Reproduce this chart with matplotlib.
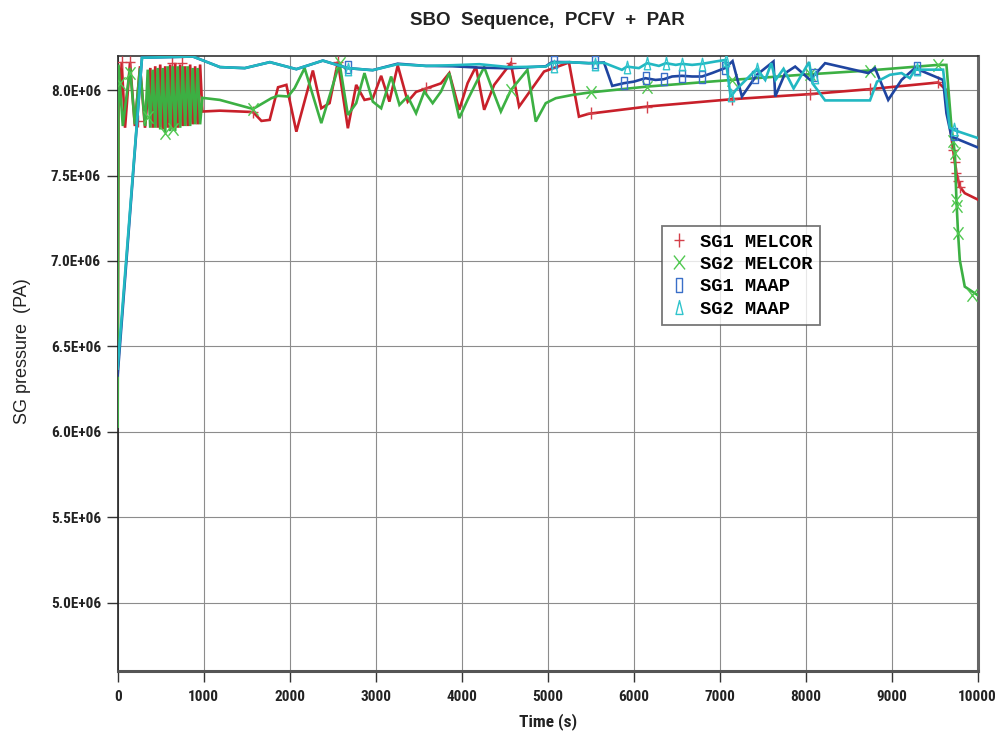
import matplotlib
matplotlib.use("Agg")
import matplotlib.pyplot as plt
from matplotlib.path import Path
from matplotlib.lines import Line2D
from matplotlib.ticker import FuncFormatter, MultipleLocator

# ── Data (time in s, pressure in units of 1e6 Pa) ─────────────────────────────

sg1_mel_t = [0, 12, 30, 47, 86, 144, 200, 260, 318, 380, 408, 437, 466, 495, 524, 553,
             582, 611, 640, 669, 698, 727, 756, 785, 814, 843, 872, 901, 930, 959, 985,
             1188, 1574, 1672, 1768, 1865, 1962, 2078, 2270, 2368, 2464, 2561, 2677,
             2774, 2870, 2967, 3064, 3160, 3257, 3373, 3470, 3566, 3760, 3856, 3972,
             4069, 4166, 4262, 4378, 4572, 4668, 4958, 5248, 5364, 5480, 6157, 7143,
             8052, 8748, 9540, 9637, 9676, 9715, 9753, 9792, 9850, 10000]
sg1_mel_p = [6.25, 8.14, 7.95, 8.165, 7.78, 8.165, 7.79, 8.14, 7.78, 8.13, 7.78, 8.14,
             7.78, 8.15, 7.77, 8.14, 7.78, 8.15, 7.77, 8.16, 7.78, 8.15, 7.79, 8.14,
             7.79, 8.15, 7.80, 8.14, 7.80, 8.15, 7.875, 7.88, 7.872, 7.82, 7.826, 8.017,
             8.031, 7.757, 8.115, 7.894, 7.924, 8.167, 7.777, 8.031, 7.943, 7.953, 8.084,
             7.933, 8.145, 7.933, 7.99, 8.006, 8.04, 8.10, 7.885, 8.041, 8.138, 7.885,
             8.031, 8.158, 7.904, 8.109, 8.162, 7.845, 7.862, 7.904, 7.947, 7.977, 8.006,
             8.045, 8.0, 7.797, 7.65, 7.514, 7.435, 7.397, 7.36]

sg2_mel_t = [0, 10, 60, 144, 200, 260, 320, 350, 379, 408, 437, 466, 495, 524, 553, 582,
             611, 640, 669, 698, 727, 756, 785, 814, 843, 872, 901, 930, 959, 985, 1188,
             1574, 1788, 1865, 1981, 2058, 2174, 2368, 2580, 2677, 2774, 2870, 2967,
             3064, 3180, 3277, 3373, 3470, 3566, 3663, 3760, 3856, 3972, 4069, 4166,
             4262, 4359, 4456, 4572, 4765, 4862, 4978, 5094, 5287, 5480, 6157, 7143,
             7952, 8729, 9540, 9637, 9695, 9734, 9753, 9772, 9792, 9850, 10000]
sg2_mel_p = [6.03, 8.15, 7.79, 8.13, 7.80, 8.13, 7.79, 8.12, 7.78, 8.12, 7.78, 8.13,
             7.77, 8.13, 7.75, 8.14, 7.76, 8.14, 7.76, 8.14, 7.78, 8.14, 7.79, 8.14,
             7.79, 8.13, 7.80, 8.13, 7.80, 7.955, 7.943, 7.89, 7.953, 7.967, 7.963,
             8.012, 8.129, 7.807, 8.158, 7.855, 7.924, 8.10, 7.933, 7.894, 8.08, 7.914,
             7.963, 7.865, 7.992, 7.924, 7.992, 8.10, 7.836, 7.943, 8.041, 8.135, 8.002,
             7.875, 8.0, 8.119, 7.816, 7.924, 7.953, 7.972, 7.986, 8.021, 8.06, 8.09,
             8.115, 8.148, 8.148, 7.787, 7.631, 7.358, 7.163, 7.006, 6.85, 6.80]

sg1_maap_t = [0, 283, 875, 1190, 1478, 1770, 2078, 2386, 2675, 2965, 3256, 3585, 3893,
              4205, 4552, 4978, 5052, 5248, 5480, 5655, 5751, 5887, 6003, 6138, 6254,
              6350, 6447, 6563, 6679, 6795, 6911, 7066, 7150, 7259, 7433, 7626, 7646,
              7762, 7878, 8052, 8226, 8729, 8806, 8960, 9115, 9270, 9598, 9637, 9695,
              10000]
sg1_maap_p = [6.33, 8.19, 8.197, 8.135, 8.129, 8.164, 8.123, 8.173, 8.129, 8.117, 8.155,
              8.142, 8.14, 8.132, 8.128, 8.14, 8.165, 8.164, 8.158, 8.162, 8.025, 8.041,
              8.05, 8.07, 8.06, 8.064, 8.08, 8.084, 8.08, 8.08, 8.10, 8.13, 8.17, 7.963,
              8.09, 8.168, 7.963, 8.10, 8.138, 8.06, 8.158, 8.10, 8.129, 7.943, 8.06,
              8.129, 8.06, 7.865, 7.728, 7.665]

sg2_maap_t = [0, 283, 875, 1190, 1478, 1770, 2078, 2386, 2675, 2965, 3256, 3585, 3893,
              4205, 4552, 4978, 5052, 5248, 5480, 5655, 5864, 5921, 6061, 6156, 6294,
              6374, 6490, 6560, 6680, 6794, 6953, 7071, 7128, 7186, 7433, 7530, 7600,
              7650, 7743, 7860, 8040, 8080, 8226, 8748, 8830, 8980, 9115, 9212, 9270,
              9598, 9676, 9734, 10000]
sg2_maap_p = [6.37, 8.19, 8.197, 8.135, 8.129, 8.164, 8.123, 8.173, 8.129, 8.117, 8.152,
              8.142, 8.146, 8.152, 8.135, 8.138, 8.16, 8.164, 8.158, 8.16, 8.119, 8.138,
              8.129, 8.158, 8.142, 8.158, 8.148, 8.154, 8.148, 8.154, 8.168, 8.177, 7.96,
              8.0, 8.125, 8.06, 8.158, 8.06, 8.125, 8.01, 8.165, 8.04, 7.94, 7.94, 8.05,
              8.09, 8.10, 8.07, 8.12, 8.12, 7.78, 7.765, 7.72]

# sparse symbols drawn on the curves
sg1_mel_mk_t = [47, 144, 240, 627, 743, 1574, 2561, 3586, 4572, 5500, 6157, 7143, 8052,
                8748, 9540, 9715, 9734, 9753, 9773, 9792]
sg1_mel_mk_p = [8.165, 8.165, 7.82, 8.16, 8.16, 7.872, 8.167, 8.01, 8.158, 7.864, 7.904,
                7.947, 7.977, 8.006, 8.045, 7.65, 7.58, 7.514, 7.47, 7.435]
sg2_mel_mk_t = [28, 144, 355, 550, 643, 1574, 2580, 4572, 5500, 6157, 7143, 8052, 8748,
                9540, 9715, 9734, 9753, 9760, 9772, 9940]
sg2_mel_mk_p = [8.04, 8.10, 7.84, 7.75, 7.77, 7.89, 8.158, 8.0, 7.987, 8.021, 8.06, 8.094,
                8.115, 8.148, 7.70, 7.631, 7.358, 7.32, 7.163, 6.80]
sg1_maap_mk_t = [2675, 5070, 5550, 5887, 6138, 6350, 6563, 6795, 7066, 7414, 8100, 9300,
                 9720]
sg1_maap_mk_p = [8.135, 8.165, 8.162, 8.041, 8.07, 8.064, 8.084, 8.08, 8.13, 8.08, 8.09,
                 8.13, 7.745]
sg2_maap_mk_t = [2675, 5070, 5550, 5921, 6156, 6374, 6560, 6794, 7071, 7130, 7433, 8110,
                 9300, 9720]
sg2_maap_mk_p = [8.125, 8.14, 8.155, 8.138, 8.158, 8.158, 8.154, 8.154, 8.177, 7.97,
                 8.125, 8.08, 8.125, 7.77]

labels = ["SG1 MELCOR", "SG2 MELCOR", "SG1 MAAP", "SG2 MAAP"]
line_colors = ["#c8202a", "#3cb043", "#1f45a0", "#22b8c2"]
mark_colors = ["#d4404a", "#50c850", "#3a6fc8", "#30c4cc"]

# ── Markers ───────────────────────────────────────────────────────────────────

M, L, C = Path.MOVETO, Path.LINETO, Path.CLOSEPOLY
plus_m = Path([(0, -1), (0, 1), (-0.75, 0), (0.75, 0)], [M, L, M, L])
cross_m = Path([(-0.8, -1), (0.8, 1), (-0.8, 1), (0.8, -1)], [M, L, M, L])
rect_m = Path([(-0.45, -1), (0.45, -1), (0.45, 1), (-0.45, 1), (-0.45, -1)],
              [M, L, L, L, C])
tri_m = Path([(-0.5, -1), (0.5, -1), (0, 1), (-0.5, -1)], [M, L, L, C])
markers = [plus_m, cross_m, rect_m, tri_m]

narrow = ["Roboto Condensed", "DejaVu Sans"]

fig = plt.figure(figsize=(9.97, 7.33), dpi=100)
ax = fig.add_axes([0.118, 0.0846, 0.8626, 0.839])

series = [
    (sg1_mel_t, sg1_mel_p, sg1_mel_mk_t, sg1_mel_mk_p),
    (sg2_mel_t, sg2_mel_p, sg2_mel_mk_t, sg2_mel_mk_p),
    (sg1_maap_t, sg1_maap_p, sg1_maap_mk_t, sg1_maap_mk_p),
    (sg2_maap_t, sg2_maap_p, sg2_maap_mk_t, sg2_maap_mk_p),
]
for i, (t, p, mt, mp) in enumerate(series):
    ax.plot(t, [v * 1e6 for v in p], color=line_colors[i], linewidth=1.9,
            zorder=3 + i, solid_joinstyle="miter")
    ax.plot(mt, [v * 1e6 for v in mp], linestyle="none", marker=markers[i],
            markersize=9, markerfacecolor="none", markeredgecolor=mark_colors[i],
            markeredgewidth=1.0, zorder=3 + i)

ax.set_xlim(0, 10000)
ax.set_ylim(4.6e6, 8.2e6)
ax.xaxis.set_major_locator(MultipleLocator(1000))
ax.set_yticks([5.0e6, 5.5e6, 6.0e6, 6.5e6, 7.0e6, 7.5e6, 8.0e6])
ax.yaxis.set_major_formatter(FuncFormatter(lambda v, _: f"{v:.1E}"))

ax.grid(True, color="#8c8c8c", linewidth=0.8, zorder=0)
ax.set_axisbelow(True)
ax.tick_params(axis="both", direction="out", length=8, width=1.0, color="#333")
ax.tick_params(axis="x", pad=6)
ax.tick_params(axis="y", pad=4)
for lab in ax.get_xticklabels() + ax.get_yticklabels():
    lab.set_family(narrow)
    lab.set_fontweight("bold")
    lab.set_fontsize(11)
    lab.set_color("#222")

ax.spines["left"].set_color("#222")
ax.spines["left"].set_linewidth(1.2)
ax.spines["top"].set_color("#333")
ax.spines["top"].set_linewidth(1.2)
ax.spines["bottom"].set_color("#555")
ax.spines["bottom"].set_linewidth(2.2)
ax.spines["right"].set_color("#666")
ax.spines["right"].set_linewidth(2.2)

ax.set_xlabel("Time (s)", family=narrow, fontweight="bold", fontsize=12.5,
              color="#222", labelpad=6)
ax.set_ylabel("SG pressure  (PA)", family=["Liberation Sans", "DejaVu Sans"],
              fontsize=13, color="#222")
ax.yaxis.set_label_coords(-0.101, 0.52)
ax.set_title("SBO  Sequence,  PCFV  +  PAR", family=["Liberation Sans", "DejaVu Sans"],
             fontweight="bold", fontsize=13.5, color="#222", pad=22)

handles = [Line2D([], [], linestyle="none", marker=markers[i], markersize=10,
                  markerfacecolor="none", markeredgecolor=mark_colors[i],
                  markeredgewidth=1.0) for i in range(4)]
leg = ax.legend(handles, labels, loc="upper left",
                bbox_to_anchor=(662 / 997, 1 - 226 / 733), bbox_transform=fig.transFigure,
                prop={"family": ["Liberation Mono", "DejaVu Sans Mono"],
                      "weight": "bold", "size": 13.5},
                frameon=True, fancybox=False, shadow=False, borderpad=0.4,
                handlelength=1.0, handletextpad=0.6, labelspacing=0.28,
                borderaxespad=0)
leg.get_frame().set_edgecolor("#555")
leg.get_frame().set_linewidth(1.3)
leg.set_zorder(10)

fig.savefig("out.png", dpi=100)
